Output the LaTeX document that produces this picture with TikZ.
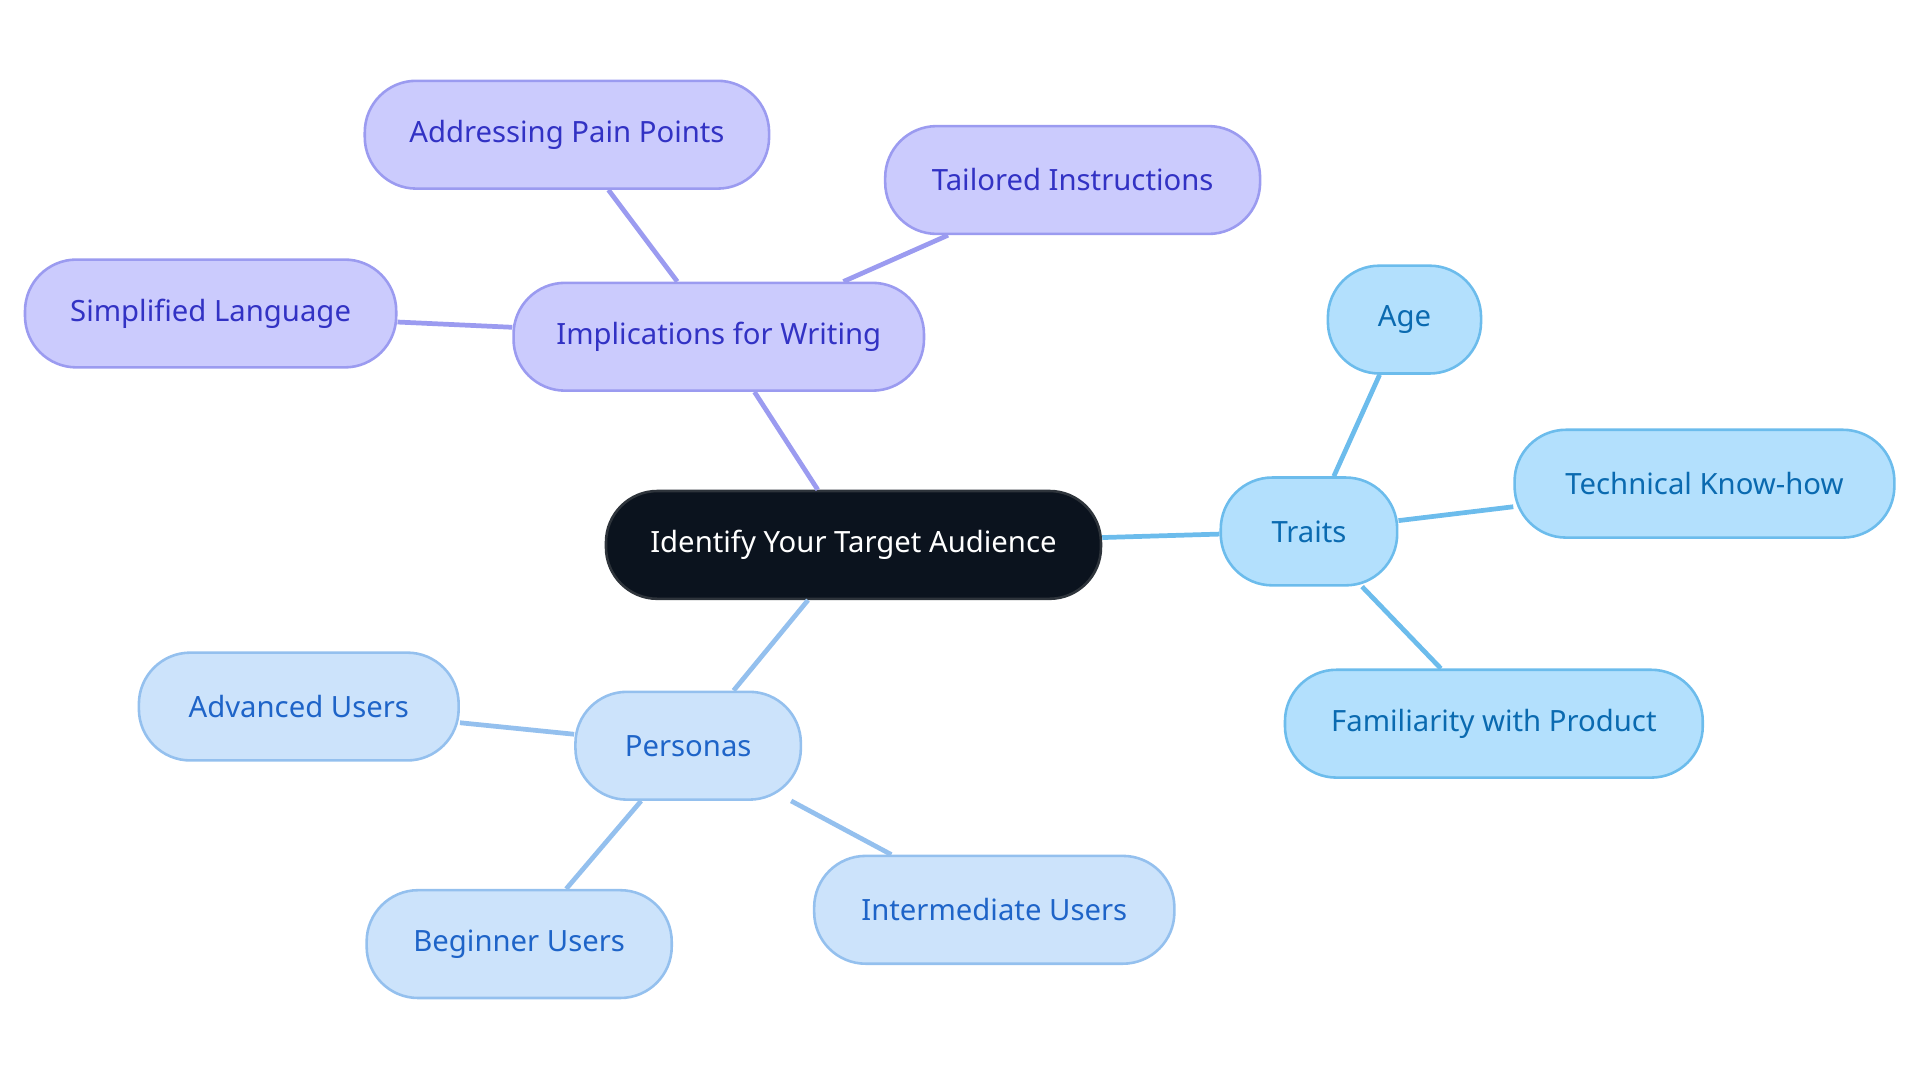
\documentclass[tikz,border=0pt]{standalone}
\usepackage{fontspec}
\setmainfont{Noto Sans}
\definecolor{RootFill}{HTML}{0B131E}
\definecolor{PurFill}{HTML}{CBCBFD}
\definecolor{PurLine}{HTML}{9B9BF0}
\definecolor{PurText}{HTML}{3232C4}
\definecolor{TrFill}{HTML}{B3E0FD}
\definecolor{TrLine}{HTML}{6CBCEC}
\definecolor{TrText}{HTML}{0A6AB0}
\definecolor{PeFill}{HTML}{CCE3FB}
\definecolor{PeLine}{HTML}{94C0EE}
\definecolor{PeText}{HTML}{1E64C8}
\tikzset{
  box/.style={rectangle, rounded corners=0.42cm, minimum height=0.88cm, line width=0.6pt,
    font=\fontsize{6.8}{8}\selectfont, inner sep=0pt},
  root/.style={box, fill=RootFill, draw=RootFill!70!gray, text=white},
  pur/.style={box, fill=PurFill, draw=PurLine, text=PurText},
  tr/.style={box, fill=TrFill, draw=TrLine, text=TrText},
  pe/.style={box, fill=PeFill, draw=PeLine, text=PeText},
  lpur/.style={PurLine, line width=1.1pt},
  ltr/.style={TrLine, line width=1.1pt},
  lpe/.style={PeLine, line width=1.1pt},
}
\begin{document}
\begin{tikzpicture}[x=0.01cm,y=-0.01cm]
  \useasboundingbox (0,0) rectangle (1568,884);
  \node[root, minimum width=4.04cm] (root) at (697,445) {Identify Your Target Audience};
  \node[pur, minimum width=3.35cm] (imp) at (587,275) {Implications for Writing};
  \node[pur, minimum width=3.30cm] (pain) at (463,110) {Addressing Pain Points};
  \node[pur, minimum width=3.06cm] (tail) at (876,147) {Tailored Instructions};
  \node[pur, minimum width=3.03cm] (simp) at (172,256) {Simplified Language};
  \node[tr, minimum width=1.44cm] (traits) at (1069,434) {Traits};
  \node[tr, minimum width=1.25cm] (age) at (1147,261) {Age};
  \node[tr, minimum width=3.10cm] (tech) at (1392,395) {Technical Know-how};
  \node[tr, minimum width=3.41cm] (fam) at (1220,591) {Familiarity with Product};
  \node[pe, minimum width=1.84cm] (pers) at (562,609) {Personas};
  \node[pe, minimum width=2.61cm] (adv) at (244,577) {Advanced Users};
  \node[pe, minimum width=2.49cm] (beg) at (424,771) {Beginner Users};
  \node[pe, minimum width=2.94cm] (inter) at (812,743) {Intermediate Users};

  \draw[lpur] (root) -- (imp);
  \draw[lpur] (imp) -- (pain);
  \draw[lpur] (imp) -- (tail);
  \draw[lpur] (imp) -- (simp);
  \draw[ltr] (root) -- (traits);
  \draw[ltr] (traits) -- (age);
  \draw[ltr] (traits) -- (tech);
  \draw[ltr] (traits) -- (fam);
  \draw[lpe] (root) -- (pers);
  \draw[lpe] (pers) -- (adv);
  \draw[lpe] (pers) -- (beg);
  \draw[lpe] (pers) -- (inter);
\end{tikzpicture}
\end{document}
